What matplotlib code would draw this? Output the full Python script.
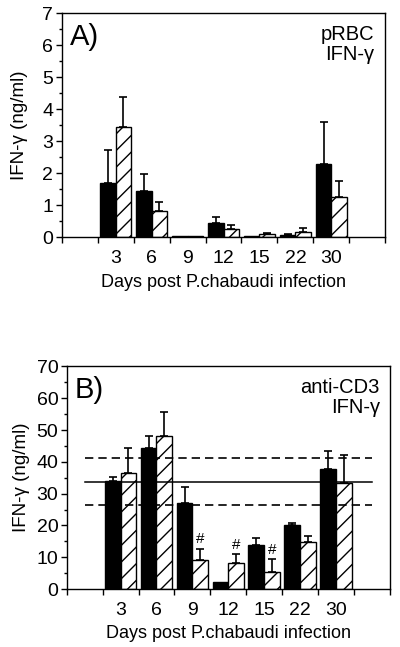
# IFN-gamma bar charts, two panels
import numpy as np
import matplotlib
matplotlib.use('Agg')
from matplotlib import pyplot as plt
from matplotlib.ticker import MultipleLocator

days = ['3', '6', '9', '12', '15', '22', '30']

# panel A: pRBC
a_black = [1.69, 1.46, 0.04, 0.44, 0.03, 0.07, 2.28]
a_black_err = [1.04, 0.52, 0.0, 0.19, 0.0, 0.03, 1.33]
a_hatch = [3.46, 0.81, 0.03, 0.26, 0.09, 0.18, 1.25]
a_hatch_err = [0.93, 0.29, 0.0, 0.13, 0.05, 0.11, 0.50]

# panel B: anti-CD3
b_black = [34.0, 44.2, 27.1, 2.3, 14.0, 20.1, 37.9]
b_black_err = [1.3, 3.9, 4.9, 0.0, 1.9, 0.8, 5.6]
b_hatch = [36.4, 48.1, 9.1, 8.1, 5.4, 14.9, 33.4]
b_hatch_err = [8.0, 7.5, 3.5, 2.8, 3.9, 1.9, 8.7]
b_signif = [False, False, True, True, True, False, False]
b_mean, b_upper, b_lower = 33.7, 41.1, 26.4

plt.rcParams['font.family'] = ['Liberation Sans', 'DejaVu Sans']
plt.rcParams['hatch.linewidth'] = 1.0

fig = plt.figure(figsize=(4, 6.47), dpi=100)
axA = fig.add_axes([0.154, 0.6332, 0.8095, 0.3462])
axB = fig.add_axes([0.1668, 0.0896, 0.808, 0.344])

x = np.arange(1, len(days) + 1)
w = 0.44


def draw(ax, black, berr, hatch, herr, ymax, ymaj, ymin, ylpad):
    ax.bar(x - w / 2, black, w, color='black', edgecolor='black', lw=1)
    ax.bar(x + w / 2, hatch, w, color='white', edgecolor='black', lw=1, hatch='//')
    for xs, v, e in [(x - w / 2, black, berr), (x + w / 2, hatch, herr)]:
        for xi, vi, ei in zip(xs, v, e):
            if ei > 0:
                ax.errorbar(xi, vi, yerr=[[0], [ei]], fmt='none', ecolor='black',
                            elinewidth=1.2, capsize=2.6, capthick=1.2)
    ax.set_xlim(-0.5, 8.5)
    ax.set_ylim(0, ymax)
    ax.set_xticks(x)
    ax.set_xticklabels(days)
    ax.xaxis.set_minor_locator(MultipleLocator(1, offset=0.5))
    ax.yaxis.set_major_locator(MultipleLocator(ymaj))
    ax.yaxis.set_minor_locator(MultipleLocator(ymin))
    ax.tick_params(axis='x', which='major', length=0, pad=9, labelsize=14)
    ax.tick_params(axis='x', which='minor', length=4, width=1, direction='out')
    ax.tick_params(axis='y', which='major', length=4, width=1, direction='out',
                   pad=2, labelsize=14)
    ax.tick_params(axis='y', which='minor', length=2.5, width=1, direction='out')
    for s in ax.spines.values():
        s.set_linewidth(1)
    ax.set_xlabel('Days post P.chabaudi infection', fontsize=13, labelpad=5)
    ax.set_ylabel('IFN-\u03b3 (ng/ml)', fontsize=13.5, labelpad=ylpad)


draw(axA, a_black, a_black_err, a_hatch, a_hatch_err, 7, 1, 0.5, 10)
axA.text(0.025, 0.955, 'A)', transform=axA.transAxes, fontsize=21, va='top', ha='left')
axA.text(0.965, 0.95, 'pRBC\nIFN-\u03b3', transform=axA.transAxes, fontsize=14.5,
         va='top', ha='right', linespacing=1.1)

draw(axB, b_black, b_black_err, b_hatch, b_hatch_err, 70, 10, 5, 5)
axB.plot([0, 8], [b_mean, b_mean], color='black', lw=1.1)
for yv in [b_upper, b_lower]:
    axB.plot([0, 8], [yv, yv], color='black', lw=1.2, dashes=(5, 3))
for xi, v, e, s in zip(x + w / 2, b_hatch, b_hatch_err, b_signif):
    if s:
        axB.text(xi, v + e + 0.8, '#', ha='center', va='bottom', fontsize=11)
axB.text(0.025, 0.955, 'B)', transform=axB.transAxes, fontsize=21, va='top', ha='left')
axB.text(0.969, 0.95, 'anti-CD3\nIFN-\u03b3', transform=axB.transAxes, fontsize=14.5,
         va='top', ha='right', linespacing=1.1)

fig.savefig('out.png', dpi=100)
